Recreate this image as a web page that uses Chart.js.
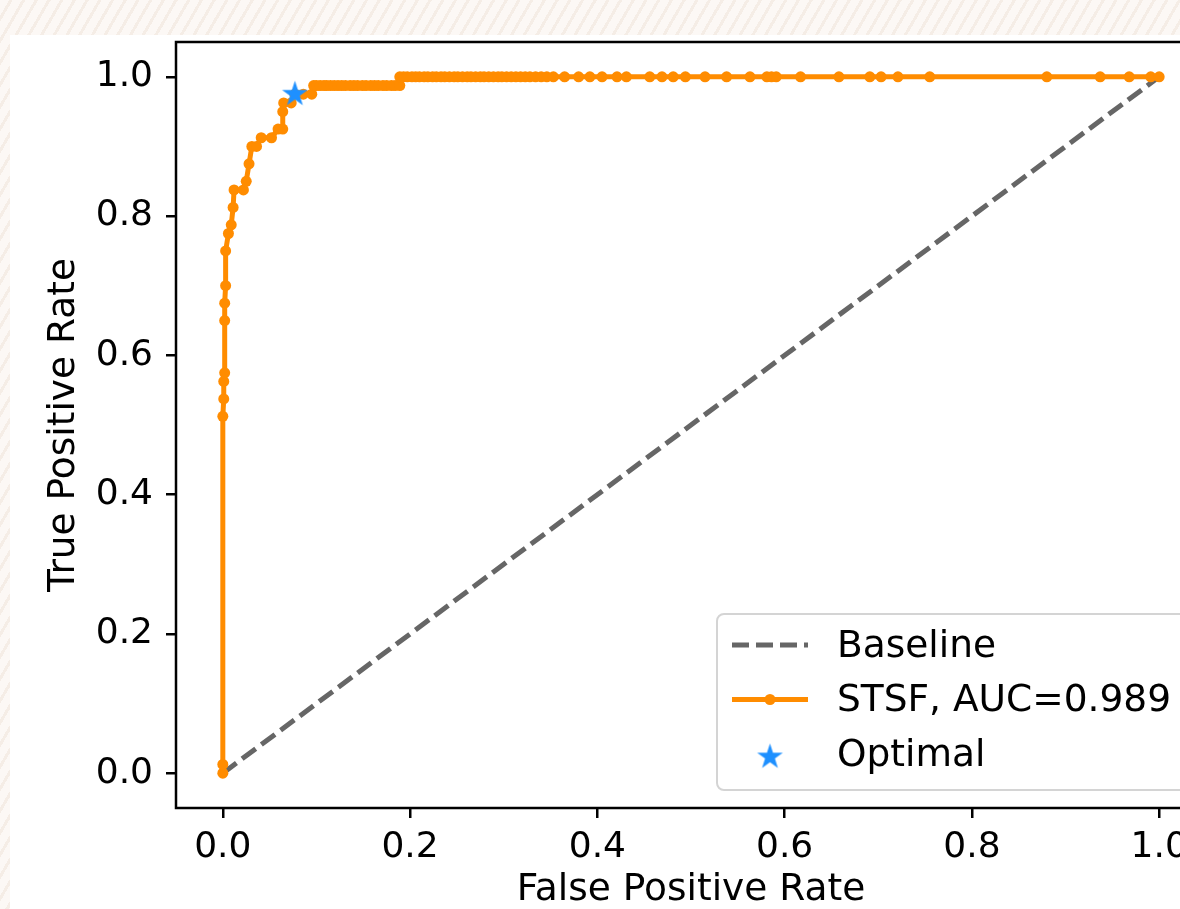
<!DOCTYPE html>
<html>
<head>
<meta charset="utf-8">
<title>ROC curve</title>
<script src="https://cdn.jsdelivr.net/npm/chart.js@4.4.1/dist/chart.umd.min.js"></script>
<style>
  html, body { margin: 0; padding: 0; }
  body {
    width: 1180px;
    height: 909px;
    overflow: hidden;
    position: relative;
    background: repeating-linear-gradient(120deg, #fcf8f5 0px, #fcf8f5 8px, #f5ede6 8px, #f5ede6 11px);
  }
  #figure { position: absolute; left: 10px; top: 35px; width: 1240px; height: 874px; background: #fff; }
  #roc { position: absolute; left: 10px; top: 28px; }
</style>
</head>
<body>
<div id="figure"></div>
<canvas id="roc" width="1240" height="881" style="width:1240px;height:881px"></canvas>
<script>
// ROC points (false positive rate, true positive rate)
const fpr = [
    0, 0, 0, 0.001, 0.001, 0.002, 0.002, 0.002, 0.003, 0.003,
    0.006, 0.009, 0.011, 0.012, 0.022, 0.025, 0.028, 0.031, 0.036, 0.041,
    0.052, 0.059, 0.064, 0.064, 0.065, 0.073, 0.077, 0.086, 0.095, 0.097,
    0.100, 0.104, 0.108, 0.111, 0.115, 0.119, 0.123, 0.127, 0.131, 0.136,
    0.140, 0.144, 0.149, 0.153, 0.158, 0.162, 0.166, 0.171, 0.175, 0.180,
    0.184, 0.189,
    0.189, 0.193, 0.197, 0.202, 0.206, 0.210, 0.215, 0.219, 0.224, 0.228,
    0.233, 0.237, 0.242, 0.247, 0.251, 0.256, 0.261, 0.265, 0.270, 0.275,
    0.279, 0.284, 0.289, 0.294, 0.298, 0.303, 0.308, 0.313, 0.318, 0.323,
    0.328, 0.334, 0.340, 0.346, 0.353, 0.365, 0.380, 0.392, 0.405, 0.421,
    0.431, 0.456, 0.469, 0.481, 0.494, 0.515, 0.538, 0.563, 0.581, 0.586,
    0.591, 0.617, 0.658, 0.691, 0.703, 0.721, 0.755, 0.880, 0.937, 0.968,
    0.991, 1.0
]
const tpr = [
    0, 0.0125, 0.5125, 0.5375, 0.5625, 0.575, 0.65, 0.675, 0.7, 0.75,
    0.775, 0.7875, 0.8125, 0.8375, 0.8375, 0.85, 0.875, 0.9, 0.9, 0.9125,
    0.9125, 0.925, 0.925, 0.95, 0.9625, 0.9625, 0.975, 0.975, 0.975, 0.9875,
    0.9875, 0.9875, 0.9875, 0.9875, 0.9875, 0.9875, 0.9875, 0.9875, 0.9875, 0.9875,
    0.9875, 0.9875, 0.9875, 0.9875, 0.9875, 0.9875, 0.9875, 0.9875, 0.9875, 0.9875,
    0.9875, 0.9875,
    1, 1, 1, 1, 1, 1, 1, 1, 1, 1,
    1, 1, 1, 1, 1, 1, 1, 1, 1, 1,
    1, 1, 1, 1, 1, 1, 1, 1, 1, 1,
    1, 1, 1, 1, 1, 1, 1, 1, 1, 1,
    1, 1, 1, 1, 1, 1, 1, 1, 1, 1,
    1, 1, 1, 1, 1, 1, 1, 1, 1, 1,
    1, 1
]
const baselineX = [0, 1]
const baselineY = [0, 1]
const optimalX = [0.077]
const optimalY = [0.975]
const xTicks = [0, 0.2, 0.4, 0.6, 0.8, 1.0]
const yTicks = [0, 0.2, 0.4, 0.6, 0.8, 1.0]
const seriesLabels = ["Baseline", "STSF, AUC=0.989", "Optimal"]

const FONT = "'DejaVu Sans', sans-serif"
const TEXT_SIZE = 37.5
const toPoints = (xs, ys) => xs.map((x, i) => ({x, y: ys[i]}))

// filled five point star, used as a point style
function makeStar(r, color){
    const c = document.createElement("canvas")
    c.width = c.height = Math.ceil(r * 2 + 2)
    const g = c.getContext("2d")
    const cx = c.width / 2, cy = c.height / 2
    g.beginPath()
    for (let i = 0; i < 10; i++) {
        const rad = i % 2 === 0 ? r : r * 0.382
        const a = -Math.PI / 2 + i * Math.PI / 5
        g.lineTo(cx + rad * Math.cos(a), cy + rad * Math.sin(a))
    }
    g.closePath()
    g.fillStyle = color
    g.fill()
    return c
}

const star = makeStar(13.5, "#1e90ff")

const framePlugin = {
    id: "frame",
    afterDatasetsDraw(chart){
        const {ctx, chartArea: a} = chart
        ctx.save()
        ctx.strokeStyle = "#000"
        ctx.lineWidth = 2.5
        ctx.strokeRect(a.left, a.top, a.right - a.left, a.bottom - a.top)
        ctx.restore()
    }
}

// matplotlib-like legend box in the lower right corner
const boxLegend = {
    id: "boxLegend",
    afterDraw(chart){
        const {ctx, chartArea: a} = chart
        const x = a.right - 489, w = 472, h = 176
        const y = a.bottom - 18 - h

        ctx.save()
        ctx.beginPath()
        ctx.roundRect(x, y, w, h, 7)
        ctx.fillStyle = "rgba(255,255,255,0.85)"
        ctx.fill()
        ctx.strokeStyle = "#d4d4d4"
        ctx.lineWidth = 2
        ctx.stroke()

        chart.data.datasets.forEach((ds, i) => {
            const cy = y + 31 + i * 54.5
            const hx = x + 15, hw = 76

            if (ds.showLine) {
                ctx.beginPath()
                ctx.setLineDash(ds.borderDash || [])
                ctx.strokeStyle = ds.borderColor
                ctx.lineWidth = ds.borderWidth
                ctx.moveTo(hx, cy)
                ctx.lineTo(hx + hw, cy)
                ctx.stroke()
                ctx.setLineDash([])
            }
            if (ds.pointStyle === star) {
                ctx.drawImage(star, hx + hw / 2 - star.width / 2, cy + 3 - star.height / 2)
            } else if (ds.pointRadius > 0) {
                ctx.beginPath()
                ctx.arc(hx + hw / 2, cy, ds.pointRadius, 0, Math.PI * 2)
                ctx.fillStyle = ds.pointBackgroundColor
                ctx.fill()
            }

            ctx.fillStyle = "#000"
            ctx.font = `${TEXT_SIZE}px ${FONT}`
            ctx.textBaseline = "middle"
            ctx.textAlign = "left"
            ctx.fillText(ds.label, x + 120, cy + 2)
        })
        ctx.restore()
    }
}

const axisStyle = (ticks, tickPad) => ({
    type: "linear",
    min: -0.05,
    max: 1.05,
    afterBuildTicks: s => { s.ticks = ticks.map(v => ({value: v})) },
    border: {display: false},
    grid: {drawOnChartArea: false, drawTicks: true, tickLength: 10, color: "#000", lineWidth: 2.5},
    ticks: {
        color: "#000",
        font: {family: FONT, size: 36},
        padding: tickPad,
        autoSkip: false,
        maxRotation: 0,
        callback: v => Number(v).toFixed(1)
    }
})

new Chart(document.getElementById("roc"), {
    type: "scatter",
    data: {
        datasets: [
            {
                label: seriesLabels[0],
                data: toPoints(baselineX, baselineY),
                showLine: true,
                borderColor: "#666666",
                borderWidth: 5,
                borderDash: [17, 7],
                pointRadius: 0,
                order: 2
            },
            {
                label: seriesLabels[1],
                data: toPoints(fpr, tpr),
                showLine: true,
                borderColor: "#ff8c00",
                borderWidth: 5,
                pointRadius: 5.5,
                pointBorderWidth: 0,
                pointBackgroundColor: "#ff8c00",
                order: 1
            },
            {
                label: seriesLabels[2],
                data: toPoints(optimalX, optimalY),
                showLine: false,
                pointStyle: star,
                pointRadius: 13,
                order: 0
            }
        ]
    },
    options: {
        responsive: false,
        animation: false,
        events: [],
        layout: {padding: {left: 0, top: 6, right: 44, bottom: 0}},
        plugins: {
            legend: {display: false},
            tooltip: {enabled: false}
        },
        scales: {
            x: {
                ...axisStyle(xTicks, 8),
                afterFit: s => {
                    s.height = 101
                    s.paddingLeft = s.paddingRight = 0
                },
                title: {
                    display: true,
                    text: "False Positive Rate",
                    color: "#000",
                    font: {family: FONT, size: TEXT_SIZE, lineHeight: 1},
                    padding: {top: 0, bottom: 0}
                }
            },
            y: {
                ...axisStyle(yTicks, 13),
                afterFit: s => {
                    s.width = 166
                    s.paddingTop = s.paddingBottom = 0
                },
                title: {
                    display: true,
                    text: "True Positive Rate",
                    color: "#000",
                    font: {family: FONT, size: TEXT_SIZE, lineHeight: 1},
                    padding: {top: 36, bottom: 0}
                }
            }
        }
    },
    plugins: [framePlugin, boxLegend]
})
</script>
</body>
</html>
